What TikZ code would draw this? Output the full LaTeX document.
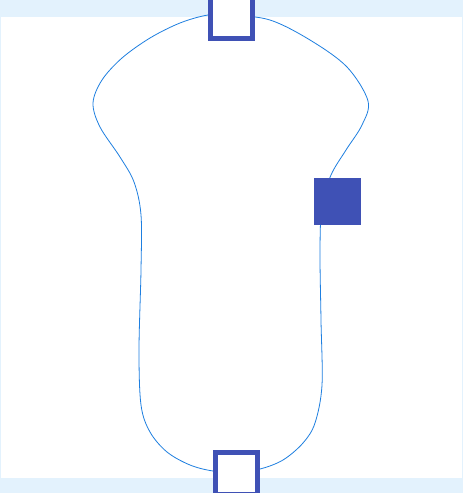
\documentclass[tikz,border=0pt]{standalone}
\usepackage{xcolor}
\usepackage{tikz}
\usetikzlibrary{positioning}
\definecolor{portblue}{HTML}{3F51B5}
\definecolor{lineblue}{HTML}{1E7FE0}
\definecolor{paleblue}{HTML}{E3F2FD}

\begin{document}
\begin{tikzpicture}[
  x=1pt,y=-1pt,
  port/.style={draw=portblue,line width=5pt,fill=white,minimum size=42pt,inner sep=0pt},
  tap/.style={fill=portblue,minimum size=47pt,inner sep=0pt},
  outline/.style={draw=lineblue,line width=0.8pt}
]
\useasboundingbox (0,0) rectangle (463,493);
\fill[paleblue] (0,0) rectangle (463,493);
\fill[white] (1,17) rectangle (462,478);
% closed outline through the three ports
\draw[outline] plot[smooth cycle,tension=0.55] coordinates {
  (231,15) (270,20) (310,40) (347,67) (368,101) (362,125) (346,150)
  (331,175) (322,205) (320,250) (321,320) (322,385) (315,423) (303,443)
  (283,460) (260,469) (236,472) (213,471) (190,465) (167,452) (150,432)
  (141,405) (139,350) (141,270) (141,215) (134,182) (120,157) (100,127)
  (93,103) (102,80) (122,58) (150,38) (180,23) (208,15)};
\node[port] (top) at (231.5,17.5) {};
\node[port] (bottom) at (236.5,473.5) {};
\node[tap] (side) at (337.5,201.5) {};
\end{tikzpicture}
\end{document}
